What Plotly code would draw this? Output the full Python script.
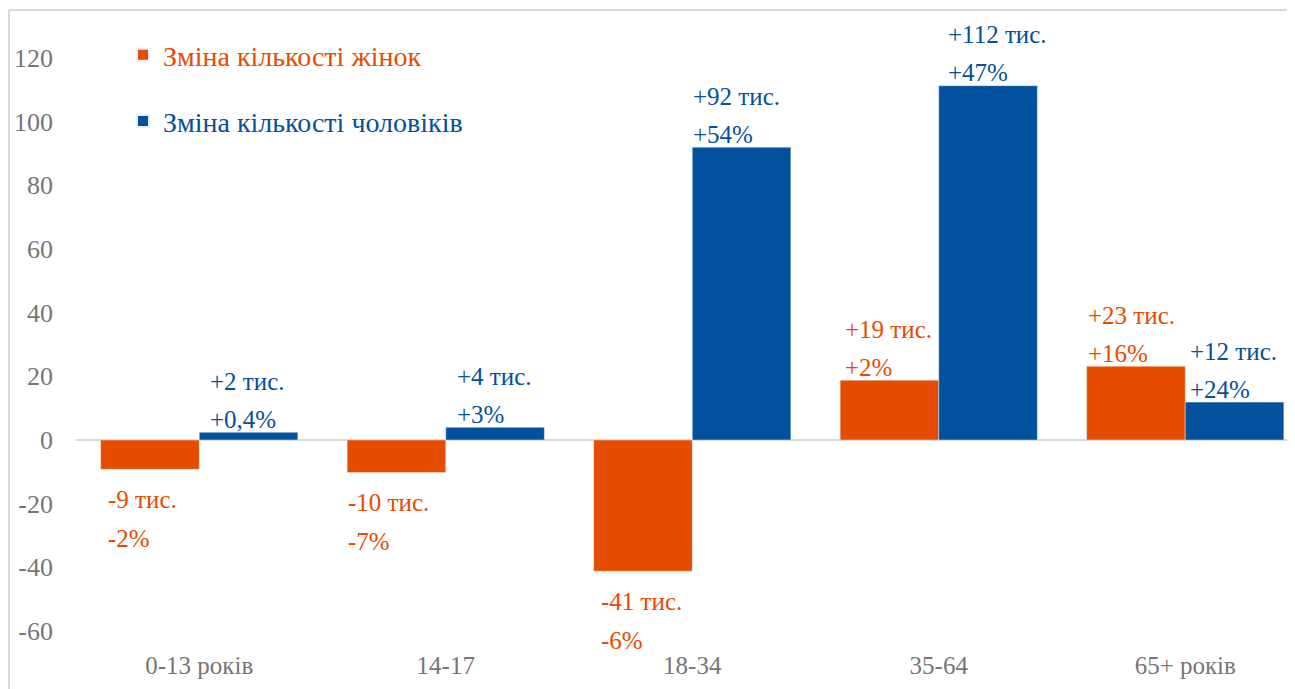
import plotly.graph_objects as go

# ---- data ----
categories = ["0-13 років", "14-17", "18-34", "35-64", "65+ років"]
women_change = [-9.2, -10.2, -41.2, 18.8, 23.2]      # тис.
men_change = [2.4, 4.0, 92.0, 111.3, 11.9]           # тис.
women_thousands_lbl = ["-9 тис.", "-10 тис.", "-41 тис.", "+19 тис.", "+23 тис."]
women_pct_lbl = ["-2%", "-7%", "-6%", "+2%", "+16%"]
men_thousands_lbl = ["+2 тис.", "+4 тис.", "+92 тис.", "+112 тис.", "+12 тис."]
men_pct_lbl = ["+0,4%", "+3%", "+54%", "+47%", "+24%"]
y_ticks = [-60, -40, -20, 0, 20, 40, 60, 80, 100, 120]
y_tick_text = ["-60", "-40", "-20", "0", "20", "40", "60", "80", "100", "120"]
women_name = "Зміна кількості жінок"
men_name = "Зміна кількості чоловіків"

# ---- style ----
ORANGE = "#E64C00"
BLUE = "#02519C"
GRAY = "#767676"
FONT = "Liberation Serif"
OFF = 8  # page body margin
W, H = 1295 - OFF, 689 - OFF
ML, MR, MT, MB = 76 - OFF, 0, 10 - OFF, 689 - 648
plot_w = W - ML - MR
plot_h = H - MT - MB
px_per_cat = 246.5
px_per_unit = 382 / 120.0
y_top = (440 - 10) / px_per_unit
y_bot = -(648 - 440) / px_per_unit
x_end = -0.5 + plot_w / px_per_cat

fig = go.Figure()
fig.add_trace(go.Bar(
    x=categories, y=women_change, marker_color=ORANGE,
    name=f"<span style='color:{ORANGE}'>{women_name}</span>",
    legendgroup="w",
))
fig.add_trace(go.Bar(
    x=categories, y=men_change, marker_color=BLUE,
    name=f"<span style='color:{BLUE}'>{men_name}</span>",
    legendgroup="m",
))

# label nudges (px) from bar left edge
women_dx = [7, 1, 7, 5, 1]
men_dx = [11, 11, 1, 9, 5]

annotations = []
half = 0.4  # each bar = 0.4 category width (bargap 0.2)
for i in range(len(categories)):
    for vals, big, small, left, dxs, col in (
        (women_change, women_thousands_lbl, women_pct_lbl, i - half, women_dx, ORANGE),
        (men_change, men_thousands_lbl, men_pct_lbl, i, men_dx, BLUE),
    ):
        v = vals[i]
        if v >= 0:
            first_shift, second_shift = 13 + 38, 13
        else:
            first_shift, second_shift = -30, -30 - 39
        for txt, shift in ((big[i], first_shift), (small[i], second_shift)):
            annotations.append(dict(
                x=left, y=v, xref="x", yref="y", text=txt, showarrow=False,
                xanchor="left", yanchor="middle", xshift=dxs[i] - 2, yshift=shift,
                font=dict(family=FONT, size=25, color=col),
            ))

# chart border (top and left visible)
bx0 = (9 - 76) / plot_w
by1 = (648 - 10) / plot_h
shapes = [
    dict(type="line", xref="paper", yref="paper", x0=bx0, x1=bx0, y0=by1, y1=-0.2,
         line=dict(color="#D9D9D9", width=2)),
    dict(type="line", xref="paper", yref="paper", x0=bx0, x1=1.05, y0=by1, y1=by1,
         line=dict(color="#D9D9D9", width=2)),
]

fig.update_layout(
    width=W, height=H,
    margin=dict(l=ML, r=MR, t=MT, b=MB, pad=0),
    paper_bgcolor="white", plot_bgcolor="white",
    barmode="group", bargap=0.2, bargroupgap=0,
    font=dict(family=FONT, size=25, color=GRAY),
    showlegend=True,
    legend=dict(
        x=(123 - 76) / plot_w, y=1 - 20 / plot_h, xanchor="left", yanchor="top",
        font=dict(family=FONT, size=28), bgcolor="rgba(0,0,0,0)",
        tracegroupgap=27, traceorder="grouped", itemsizing="constant",
    ),
    xaxis=dict(
        range=[-0.5, x_end], showgrid=False, showline=False, zeroline=False,
        ticks="", tickfont=dict(family=FONT, size=25, color=GRAY),
    ),
    yaxis=dict(
        range=[y_bot, y_top], tickvals=y_ticks, ticktext=y_tick_text,
        showgrid=False, showline=False,
        zeroline=True, zerolinecolor="#D9D9D9", zerolinewidth=2,
        ticks="", ticklabelstandoff=22,
        tickfont=dict(family=FONT, size=26, color=GRAY),
    ),
    annotations=annotations,
    shapes=shapes,
)

fig.write_html("out.html")
